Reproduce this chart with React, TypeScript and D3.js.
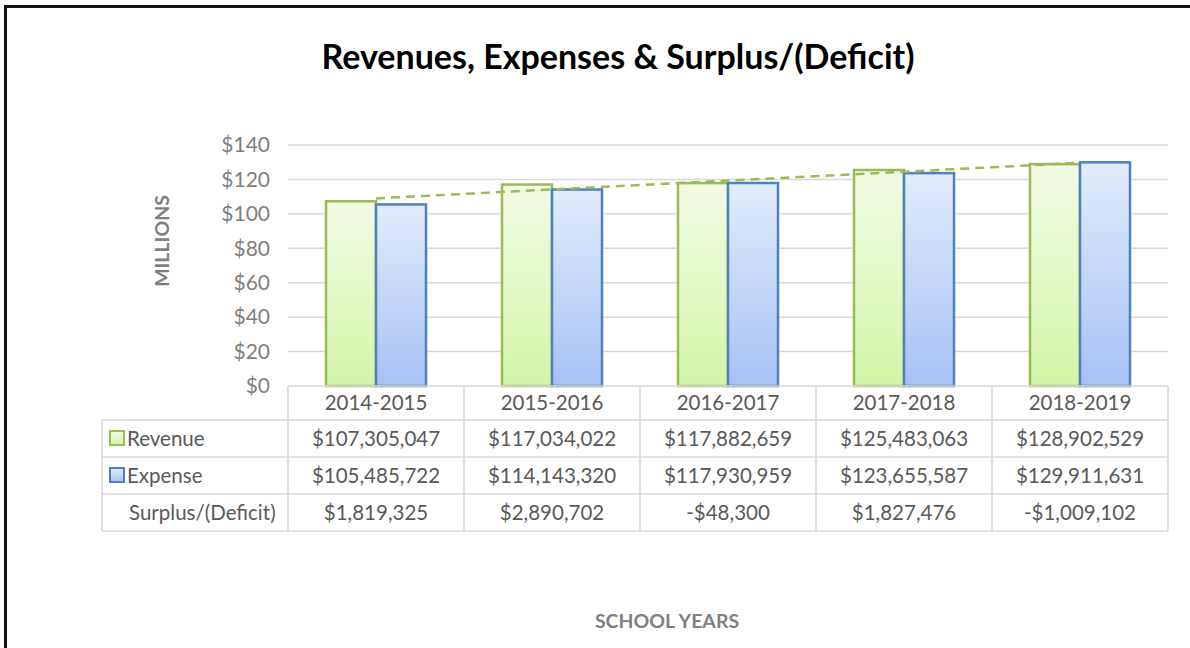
import React from "react";
import * as d3 from "d3";

const years = ["2014-2015", "2015-2016", "2016-2017", "2017-2018", "2018-2019"];
const revenue = [107305047, 117034022, 117882659, 125483063, 128902529];
const expense = [105485722, 114143320, 117930959, 123655587, 129911631];
const surplus = [1819325, 2890702, -48300, 1827476, -1009102];
const yTicks = [0, 20, 40, 60, 80, 100, 120, 140];

const W = 1190;
const H = 648;
const FONT = "Lato, 'Open Sans', sans-serif";
const TEXT = "#595959";
const GRID = "#d9d9d9";
const GREEN = "#9bbb59";
const BLUE = "#4f81bd";

const plot = {left: 288, right: 1168, top: 145, bottom: 386};
const ROW_H = 37;
const TABLE_LEFT = 102;

const money = (v: number) => (v < 0 ? "-$" : "$") + d3.format(",")(Math.abs(v));

// least squares trend of revenue, excel style (x = 1..n)
function trend(vals: number[]) {
  const xs = vals.map((_, i) => i + 1);
  const mx = d3.mean(xs)!;
  const my = d3.mean(vals)!;
  let num = 0;
  let den = 0;
  xs.forEach((x, i) => {
    num += (x - mx) * (vals[i] - my);
    den += (x - mx) * (x - mx);
  });
  const slope = num / den;
  return xs.map((x) => my + slope * (x - mx));
}

export default function App() {
  const x = d3.scaleBand<string>().domain(years).range([plot.left, plot.right]);
  const bw = x.bandwidth();
  const sub = d3
    .scaleBand<string>()
    .domain(["rev", "exp"])
    .range([0, bw])
    .paddingInner(0)
    .paddingOuter(0.76);
  const y = d3.scaleLinear().domain([0, 140]).range([plot.bottom, plot.top]);

  const trendVals = trend(revenue.map((v) => v / 1e6));
  const trendLine = d3
    .line<number>()
    .x((_, i) => x(years[i])! + bw / 2)
    .y((d) => y(d));

  const rows = [
    {label: "Revenue", vals: revenue, key: "rev"},
    {label: "Expense", vals: expense, key: "exp"},
    {label: "Surplus/(Deficit)", vals: surplus, key: null},
  ];
  const rowY = (i: number) => plot.bottom + 34 + i * ROW_H;

  return (
    <svg width={W} height={H} style={{position: "absolute", left: 0, top: 0}} fontFamily={FONT}>
      <defs>
        <linearGradient id="gGreen" x1="0" y1="0" x2="0" y2="1">
          <stop offset="0" stopColor="#f2fbe4" />
          <stop offset="1" stopColor="#d3f5a6" />
        </linearGradient>
        <linearGradient id="gBlue" x1="0" y1="0" x2="0" y2="1">
          <stop offset="0" stopColor="#e2ebfc" />
          <stop offset="1" stopColor="#a6c3f5" />
        </linearGradient>
      </defs>
      <rect x={0} y={0} width={W} height={H} fill="#fff" />
      {/* outer frame, only top & left visible */}
      <line x1={5} x2={W} y1={6.5} y2={6.5} stroke="#111" strokeWidth={3} />
      <line x1={5.5} x2={5.5} y1={5} y2={H} stroke="#111" strokeWidth={3} />

      <text x={618} y={69} textAnchor="middle" fontSize={34} fontWeight="bold" fill="#000">
        Revenues, Expenses &amp; Surplus/(Deficit)
      </text>

      {/* gridlines */}
      {yTicks.filter((t) => t > 0).map((t) => (
        <line key={t} x1={plot.left} x2={plot.right} y1={y(t)} y2={y(t)} stroke={GRID} strokeWidth={1.5} />
      ))}
      {yTicks.map((t) => (
        <text key={"l" + t} x={270} y={y(t)} dy="0.35em" textAnchor="end" fontSize={21} fill="#7f7f7f">
          ${t}
        </text>
      ))}

      <text
        transform="translate(169,241) rotate(-90)"
        textAnchor="middle"
        fontSize={19.5}
        fontWeight="bold"
        fill="#7f7f7f"
      >
        MILLIONS
      </text>

      {/* bars */}
      {years.map((yr, i) => (
        <g key={yr} transform={`translate(${x(yr)},0)`}>
          <rect
            x={sub("rev")}
            y={y(revenue[i] / 1e6)}
            width={sub.bandwidth()}
            height={plot.bottom - y(revenue[i] / 1e6)}
            fill="url(#gGreen)"
            stroke={GREEN}
            strokeWidth={2.5}
          />
          <rect
            x={sub("exp")}
            y={y(expense[i] / 1e6)}
            width={sub.bandwidth()}
            height={plot.bottom - y(expense[i] / 1e6)}
            fill="url(#gBlue)"
            stroke={BLUE}
            strokeWidth={2.5}
          />
        </g>
      ))}

      <path d={trendLine(trendVals)!} fill="none" stroke={GREEN} strokeWidth={2.5} strokeDasharray="9,6" />

      {/* data table */}
      <g stroke={GRID} strokeWidth={1.5}>
        <line x1={plot.left} x2={plot.right} y1={plot.bottom} y2={plot.bottom} />
        {[0, 1, 2, 3].map((i) => (
          <line key={i} x1={TABLE_LEFT} x2={plot.right} y1={rowY(i)} y2={rowY(i)} />
        ))}
        <line x1={TABLE_LEFT} x2={TABLE_LEFT} y1={rowY(0)} y2={rowY(3)} />
        {years.map((yr) => (
          <line key={yr} x1={x(yr)} x2={x(yr)} y1={plot.bottom} y2={rowY(3)} />
        ))}
        <line x1={plot.right} x2={plot.right} y1={plot.bottom} y2={rowY(3)} />
      </g>

      {years.map((yr) => (
        <text key={yr} x={x(yr)! + bw / 2} y={(plot.bottom + rowY(0)) / 2} dy="0.36em" textAnchor="middle" fontSize={20.5} fill={TEXT}>
          {yr}
        </text>
      ))}

      {rows.map((r, ri) => {
        const cy = (rowY(ri) + rowY(ri + 1)) / 2;
        return (
          <g key={r.label}>
            {r.key && (
              <rect
                x={110}
                y={cy - 7.5}
                width={14}
                height={14}
                fill={r.key === "rev" ? "url(#gGreen)" : "url(#gBlue)"}
                stroke={r.key === "rev" ? GREEN : BLUE}
                strokeWidth={2}
              />
            )}
            <text x={r.key ? 127 : 129} y={cy} dy="0.36em" fontSize={20.5} fill={TEXT}>
              {r.label}
            </text>
            {r.vals.map((v, i) => (
              <text key={i} x={x(years[i])! + bw / 2} y={cy} dy="0.36em" textAnchor="middle" fontSize={20.5} fill={TEXT}>
                {money(v)}
              </text>
            ))}
          </g>
        );
      })}

      <text x={667} y={628} textAnchor="middle" fontSize={19.5} fontWeight="bold" fill="#7f7f7f">
        SCHOOL YEARS
      </text>
    </svg>
  );
}
